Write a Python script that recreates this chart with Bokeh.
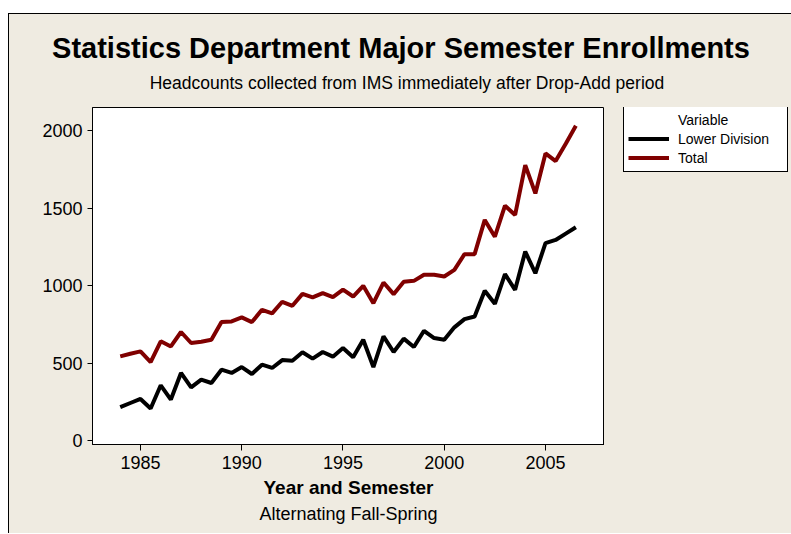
from bokeh.plotting import figure
from bokeh.models import Legend, LegendItem, FixedTicker, Range1d, Title, Div
from bokeh.layouts import column, row
from bokeh.embed import file_html
from bokeh.resources import INLINE

# ---- data ----
semester = [1984.0, 1984.5, 1985.0, 1985.5, 1986.0, 1986.5, 1987.0, 1987.5,
            1988.0, 1988.5, 1989.0, 1989.5, 1990.0, 1990.5, 1991.0, 1991.5,
            1992.0, 1992.5, 1993.0, 1993.5, 1994.0, 1994.5, 1995.0, 1995.5,
            1996.0, 1996.5, 1997.0, 1997.5, 1998.0, 1998.5, 1999.0, 1999.5,
            2000.0, 2000.5, 2001.0, 2001.5, 2002.0, 2002.5, 2003.0, 2003.5,
            2004.0, 2004.5, 2005.0, 2005.5, 2006.0, 2006.5]

lower_division = [215, 242, 268, 206, 356, 264, 436, 343, 393, 371, 457, 436,
                  474, 429, 489, 468, 519, 515, 569, 528, 571, 541, 597,
                  537, 650, 474, 672, 571, 657, 603, 708, 661, 650, 730, 783,
                  800, 966, 882, 1073, 972, 1219, 1079, 1273, 1294, 1335, 1376]

total = [543, 560, 575, 506, 640, 607, 700, 629, 637, 650, 764, 768,
         794, 764, 843, 820, 895, 869, 946, 923, 951, 925, 974,
         929, 998, 886, 1019, 944, 1024, 1030, 1069, 1069, 1058, 1101, 1202,
         1202, 1423, 1315, 1515, 1455, 1777, 1594, 1852, 1803, 1914, 2030]

x_ticks = [1985, 1990, 1995, 2000, 2005]
y_ticks = [0, 500, 1000, 1500, 2000]

title_text = "Statistics Department Major Semester Enrollments"
subtitle_text = "Headcounts collected from IMS immediately after Drop-Add period"
xlabel_text = "Year and Semester"
xlabel2_text = "Alternating Fall-Spring"
legend_title = "Variable"
series_names = ["Lower Division", "Total"]

# ---- styling / layout ----
BG = "#EFEBE1"
RED = "#800000"
FONT = "Liberation Sans"
W, H = 791, 533
HEAD = 100                 # heading block above the plot
EDGE_X, EDGE_Y = 8, 13     # outer black border of the graph window
FRAME_L, FRAME_T = 92, 107
FRAME_W, FRAME_H = 512, 337
PH = H - HEAD
STRIP = EDGE_X + 1         # white strip + black line at the left
LEG_W = W - FRAME_L - FRAME_W
BORDER_TOP = FRAME_T - HEAD
BORDER_BOTTOM = PH - BORDER_TOP - FRAME_H

head_html = (
    f'<div style="position:absolute;left:0;top:0;width:{W}px;height:{HEAD}px;'
    f'background:white;"></div>'
    f'<div style="position:absolute;left:{EDGE_X}px;top:{EDGE_Y}px;'
    f'width:{W - EDGE_X}px;height:{HEAD - EDGE_Y}px;box-sizing:border-box;'
    f'background:{BG};border-left:1px solid black;border-top:1px solid black;"></div>'
    f'<div style="position:absolute;left:14px;top:33.75px;width:774px;'
    f'text-align:center;font-family:\'{FONT}\';font-size:29px;font-weight:bold;'
    f'line-height:1;white-space:nowrap;color:black;">{title_text}</div>'
    f'<div style="position:absolute;left:26px;top:75.2px;width:762px;'
    f'text-align:center;font-family:\'{FONT}\';font-size:17.5px;font-weight:normal;'
    f'line-height:1;white-space:nowrap;color:black;">{subtitle_text}</div>'
)
head = Div(text=head_html, width=W, height=HEAD, margin=0,
           styles={"background-color": "white", "position": "relative"})

strip_html = (
    f'<div style="position:absolute;left:0;top:0;width:{STRIP}px;height:{PH}px;'
    f'background:white;"></div>'
    f'<div style="position:absolute;left:{EDGE_X}px;top:0;width:1px;height:{PH}px;'
    f'background:black;"></div>'
)
strip = Div(text=strip_html, width=STRIP, height=PH, margin=0,
            styles={"background-color": "white", "position": "relative"})

p = figure(width=None, height=None, frame_width=FRAME_W, frame_height=FRAME_H,
           output_backend="svg", toolbar_location=None, title=None,
           x_range=Range1d(1982.63, 2007.914), y_range=Range1d(-25.8, 2148.4),
           min_border_left=FRAME_L - STRIP, min_border_right=0,
           min_border_top=BORDER_TOP, min_border_bottom=BORDER_BOTTOM)

p.border_fill_color = BG
p.background_fill_color = "white"
p.outline_line_color = "black"
p.outline_line_width = 1
p.xgrid.visible = False
p.ygrid.visible = False

for ax in (p.xaxis[0], p.yaxis[0]):
    ax.axis_line_color = "black"
    ax.major_tick_line_color = "black"
    ax.minor_tick_line_color = None
    ax.major_tick_in = 0
    ax.major_label_text_font = FONT
    ax.major_label_text_font_size = "18px"
    ax.major_label_text_color = "black"

p.xaxis[0].ticker = FixedTicker(ticks=x_ticks)
p.yaxis[0].ticker = FixedTicker(ticks=y_ticks)
p.xaxis[0].major_tick_out = 6
p.yaxis[0].major_tick_out = 5
p.xaxis[0].major_label_standoff = 5
p.yaxis[0].major_label_standoff = 5

p.xaxis[0].axis_label = xlabel_text
p.xaxis[0].axis_label_text_font = FONT
p.xaxis[0].axis_label_text_font_style = "bold"
p.xaxis[0].axis_label_text_font_size = "19px"
p.xaxis[0].axis_label_text_color = "black"
p.xaxis[0].axis_label_standoff = 5

p.line(semester, lower_division, line_color="black", line_width=4)
p.line(semester, total, line_color=RED, line_width=4)

p.add_layout(Title(text=xlabel2_text, align="center",
                   text_font=FONT, text_font_size="18px",
                   text_font_style="normal", text_color="black",
                   standoff=2), "below")

# ---- legend panel (separate Bokeh plot to the right of the graph) ----
# its frame has the same vertical extent as the main frame; its ranges hold
# none of the data, so the key lines only show up as legend samples
lf = figure(width=None, height=None, frame_width=LEG_W, frame_height=FRAME_H,
            output_backend="svg", toolbar_location=None,
            title=None, x_axis_type=None, y_axis_type=None,
            x_range=Range1d(0, 1), y_range=Range1d(0, 1),
            min_border_left=0, min_border_right=0,
            min_border_top=BORDER_TOP, min_border_bottom=BORDER_BOTTOM)
lf.outline_line_color = None
lf.background_fill_color = BG
lf.border_fill_color = BG
lf.xgrid.visible = False
lf.ygrid.visible = False
k_var = lf.line(semester, total, line_alpha=0)
k_low = lf.line(semester, lower_division, line_color="black", line_width=4)
k_tot = lf.line(semester, total, line_color=RED, line_width=4)

LEG_PAD, LEG_ROW = 4, 19
leg_h = 2 * LEG_PAD + 3 * LEG_ROW
legend = Legend(items=[LegendItem(label=legend_title, renderers=[k_var]),
                       LegendItem(label=series_names[0], renderers=[k_low]),
                       LegendItem(label=series_names[1], renderers=[k_tot])],
                location=(623 - (FRAME_L + FRAME_W), FRAME_H - leg_h))
legend.border_line_color = "black"
legend.border_line_alpha = 1
legend.border_line_width = 1
legend.background_fill_color = "white"
legend.background_fill_alpha = 1
legend.label_text_font = FONT
legend.label_text_font_size = "14px"
legend.label_text_color = "black"
legend.glyph_width = 41
legend.glyph_height = LEG_ROW
legend.label_height = LEG_ROW
legend.label_width = 105
legend.padding = LEG_PAD
legend.spacing = 0
legend.label_standoff = 9
legend.margin = 0
lf.add_layout(legend)

layout = column(head, row(strip, p, lf, spacing=0), spacing=0,
                styles={"background-color": BG})
open("out.html", "w").write(file_html(layout, INLINE))
